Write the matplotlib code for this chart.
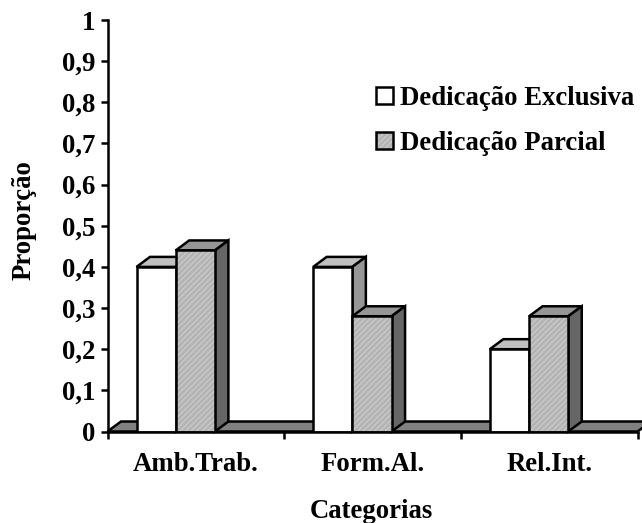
import matplotlib
matplotlib.use('Agg')
import matplotlib.pyplot as plt
from matplotlib.patches import Polygon, Patch
from matplotlib.legend_handler import HandlerTuple

categories = ['Amb.Trab.', 'Form.Al.', 'Rel.Int.']
exclusiva = [0.4, 0.4, 0.2]
parcial = [0.44, 0.28, 0.28]
series_names = ['Dedicação Exclusiva', 'Dedicação Parcial']
y_ticks = [i / 10 for i in range(11)]
y_labels = ['0', '0,1', '0,2', '0,3', '0,4', '0,5', '0,6', '0,7', '0,8', '0,9', '1']

plt.rcParams['font.family'] = 'Liberation Serif'
plt.rcParams['font.weight'] = 'bold'
plt.rcParams['hatch.linewidth'] = 0.6
W, H = 642, 523
LW = 1.8
FS = 19.3
GREY = '#b4b4b4'
HATCH = '#d4d4d4'
fig = plt.figure(figsize=(W / 100, H / 100), dpi=100)
ax = fig.add_axes([107.5 / W, 1 - 431.5 / H, 530 / W, 411.5 / H])
ax.set_xlim(0, 3)
ax.set_ylim(0, 1)

dx = 13.5 / (530 / 3)
dy = 10 / 411.5
bar_w = 39.2 / (530 / 3)
off = 29 / (530 / 3)

def box(x, w, h, front, top, side, hatch=None, z=3):
    ax.add_patch(Polygon([(x, h), (x + dx, h + dy), (x + w + dx, h + dy), (x + w, h)],
                         fc=top, ec='k', lw=LW, zorder=z, joinstyle='miter', clip_on=False))
    ax.add_patch(Polygon([(x + w, 0), (x + w + dx, dy), (x + w + dx, h + dy), (x + w, h)],
                         fc=side, ec='k', lw=LW, zorder=z, joinstyle='miter', clip_on=False))
    if hatch:
        ax.bar(x, h, w, align='edge', color=front, edgecolor=HATCH, linewidth=0, hatch=hatch, zorder=z + 0.1)
        ax.bar(x, h, w, align='edge', fill=False, edgecolor='k', linewidth=LW, zorder=z + 0.2)
    else:
        ax.bar(x, h, w, align='edge', color=front, edgecolor='k', linewidth=LW, zorder=z + 0.1)

ax.add_patch(Polygon([(0, 0), (dx, dy), (3 + dx, dy), (3, 0)], fc='#808080', ec='k', lw=LW,
                     zorder=1, clip_on=False, joinstyle='miter'))
for i in range(3):
    box(i + off, bar_w, exclusiva[i], 'white', '#c0c0c0', '#969696', z=3)
    box(i + off + bar_w, bar_w, parcial[i], GREY, '#969696', '#666666', hatch='//////', z=4)

for s in ('top', 'right'):
    ax.spines[s].set_visible(False)
for s in ('left', 'bottom'):
    ax.spines[s].set_linewidth(LW)
    ax.spines[s].set_zorder(6)
ax.set_yticks(y_ticks, y_labels, fontsize=FS, fontweight='bold')
ax.set_xticks([0, 1, 2, 3])
ax.set_xticklabels([])
ax.set_xticks([0.5, 1.5, 2.5], categories, minor=True, fontsize=FS, fontweight='bold')
ax.tick_params(axis='x', which='minor', length=0, pad=14.5)
ax.tick_params(axis='x', which='major', length=5, width=LW)
ax.tick_params(axis='y', length=5, width=LW, pad=3.5)
ax.set_xlabel('Categorias', fontsize=FS, fontweight='bold')
ax.xaxis.set_label_coords(0.497, -0.1635)
ax.set_ylabel('Proporção', fontsize=FS, fontweight='bold')
ax.yaxis.set_label_coords(-0.133, 0.515)

h1 = Patch(fc='white', ec='k', lw=LW)
h2a = Patch(fc=GREY, ec=HATCH, lw=0, hatch='//////')
h2b = Patch(fill=False, ec='k', lw=LW)
ax.legend(handles=[h1, (h2a, h2b)], labels=series_names, handler_map={tuple: HandlerTuple(ndivide=1, pad=0)},
          loc='upper left', bbox_to_anchor=(0.5066, 0.84), frameon=False,
          prop={'size': FS, 'weight': 'bold'}, handlelength=0.63, handleheight=0.63,
          handletextpad=0.27, labelspacing=0.755, borderaxespad=0, borderpad=0)
fig.savefig('out.png', dpi=100)
